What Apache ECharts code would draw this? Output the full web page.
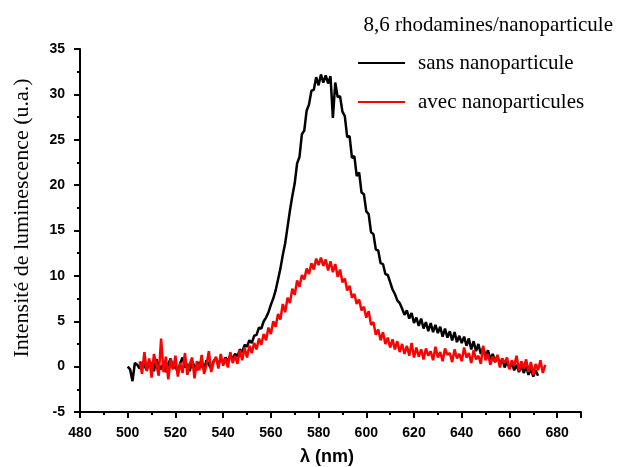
<!DOCTYPE html>
<html>
<head>
<meta charset="utf-8">
<script src="https://cdn.jsdelivr.net/npm/echarts@6/dist/echarts.min.js"></script>
<style>
  html, body { margin: 0; padding: 0; background: #fff; }
  #main { width: 618px; height: 467px; }
</style>
</head>
<body>
<div id="main"></div>
<script>
// longueurs d'onde (nm), pas de 1 nm
var blackStart = 500;
var redStart = 505;

// sans nanoparticule, 500 -> 672 nm
var sansNano = [
  0.0, -0.3, -1.6, 0.4, 0.2, -0.2, 0.5, 0.1, -0.4, 0.6,
  0.3, -0.5, 0.8, 0.2, -0.3, 0.4, -0.6, 0.3, 0.9, -0.2,
  0.1, -0.7, 0.4, 1.0, -0.1, 0.3, -0.5, 0.6, 0.0, -0.4,
  0.5, 0.1, -0.3, 0.7, 0.2, -0.2, 0.6, 0.9, 0.3, 0.8,
  0.5, 1.0, 0.6, 1.3, 0.9, 1.4, 1.1, 1.9, 1.6, 2.4,
  2.2, 2.9, 2.6, 3.4, 3.5, 4.3, 4.2, 5.0, 5.4, 6.0,
  6.8, 7.5, 8.4, 9.6, 10.8, 12.3, 13.6, 15.4, 17.2, 18.8,
  20.2, 22.4, 23.1, 25.6, 26.0, 28.2, 28.9, 30.4, 30.5, 31.9,
  31.0, 32.2, 31.3, 32.1, 31.2, 32.0, 27.4, 31.3, 29.7, 29.8,
  28.1, 27.6, 25.3, 25.4, 23.0, 23.2, 21.0, 21.4, 19.2, 19.0,
  17.1, 16.8, 14.8, 14.6, 12.9, 12.8, 11.4, 11.3, 10.2, 10.1,
  9.3, 8.5, 8.0, 7.3, 7.0, 6.4, 5.7, 6.2, 5.3, 5.9,
  4.8, 5.4, 4.5, 5.3, 4.2, 4.9, 3.9, 4.8, 3.8, 4.6,
  3.7, 4.4, 3.3, 4.2, 3.2, 3.9, 2.9, 3.8, 2.7, 3.4,
  2.6, 3.3, 2.3, 3.1, 1.9, 2.8, 1.7, 2.5, 1.4, 2.1,
  1.1, 1.8, 0.8, 1.4, 0.5, 1.2, 0.2, 0.9, -0.1, 0.6,
  -0.2, 0.4, -0.4, 0.2, -0.6, 0.1, -0.7, 0.0, -0.9, -0.2,
  -1.1, -0.4, -1.0
];

// avec nanoparticules, 505 -> 675 nm
var avecNano = [
  0.6, -0.8, 1.6, -0.5, 0.9, -1.2, 1.4, 0.2, -1.0, 3.1,
  -0.6, 1.1, -1.4, 0.8, -0.3, 1.2, -1.1, 0.4, -0.7, 1.5,
  -0.9, 0.3, 1.0, -1.3, 0.6, -0.4, 1.3, -0.8, 0.2, 1.7,
  -0.6, 0.5, 1.1, -0.2, 1.4, 0.1, 0.9, -0.1, 1.6, 0.4,
  1.2, 0.3, 1.8, 0.7, 2.1, 1.0, 2.3, 1.5, 2.6, 1.9,
  3.1, 2.4, 3.6, 2.9, 4.3, 3.6, 5.0, 4.4, 5.8, 5.2,
  6.9, 6.0, 7.6, 7.0, 8.6, 7.9, 9.5, 8.8, 10.1, 9.6,
  10.8, 10.2, 11.4, 10.7, 11.9, 11.2, 12.0, 11.1, 11.8, 10.6,
  11.6, 10.4, 11.3, 9.9, 10.7, 9.3, 9.7, 8.4, 8.9, 7.6,
  8.0, 6.9, 7.4, 6.2, 6.6, 5.4, 6.1, 4.6, 4.9, 3.5,
  4.1, 2.9, 3.8, 2.5, 3.2, 2.1, 3.0, 1.9, 2.8, 1.6,
  2.5, 1.4, 2.3, 1.2, 2.6, 1.0, 2.1, 1.1, 1.9, 0.8,
  2.0, 1.2, 1.7, 0.7, 2.2, 1.0, 1.6, 0.6, 2.0, 1.3,
  1.5, 0.5, 1.9, 0.9, 1.4, 0.6, 2.1, 1.0, 1.5, 0.4,
  1.8, 0.8, 1.2, 0.3, 2.3, 0.7, 1.4, 0.2, 1.1, 0.5,
  1.3, -0.1, 0.9, 0.4, 1.0, -0.3, 0.7, 0.1, 1.2, -0.5,
  0.6, -0.2, 0.8, -0.6, 0.5, -0.9, 0.3, -0.4, 0.7, -0.7,
  0.2
];

var seriesNames = ['sans nanoparticule', 'avec nanoparticules'];

function toPairs(start, arr) {
  return arr.map(function(v, i) { return [start + i, v]; });
}

var myChart = echarts.init(document.getElementById('main'));
var option = {
  animation: false,
  backgroundColor: '#fff',
  title: {
    text: '8,6 rhodamines/nanoparticule',
    right: 5,
    top: 15,
    padding: 0,
    textStyle: {
      fontFamily: 'Liberation Serif',
      fontSize: 21,
      fontWeight: 'normal',
      color: '#000'
    }
  },
  legend: {
    orient: 'vertical',
    left: 358,
    top: 52,
    padding: 0,
    itemWidth: 47,
    itemHeight: 2,
    itemGap: 17,
    icon: 'rect',
    data: seriesNames,
    textStyle: {
      fontFamily: 'Liberation Serif',
      fontSize: 21,
      lineHeight: 22,
      color: '#000',
      padding: [0, 0, 0, 8]
    }
  },
  grid: {
    left: 80,
    right: 37,
    top: 49,
    bottom: 55
  },
  xAxis: {
    type: 'value',
    min: 480,
    max: 690,
    interval: 20,
    axisLine: { onZero: false, lineStyle: { color: '#000', width: 2 } },
    axisTick: { length: 6, lineStyle: { color: '#000', width: 2 } },
    minorTick: { show: true, splitNumber: 2, length: 3, lineStyle: { color: '#000', width: 2 } },
    splitLine: { show: false },
    axisLabel: {
      color: '#000',
      fontFamily: 'Liberation Sans',
      fontWeight: 'bold',
      fontSize: 14,
      margin: 14,
      showMaxLabel: false
    }
  },
  yAxis: {
    type: 'value',
    min: -5,
    max: 35,
    interval: 5,
    axisLine: { show: true, lineStyle: { color: '#000', width: 2 } },
    axisTick: { show: true, length: 6, lineStyle: { color: '#000', width: 2 } },
    minorTick: { show: true, splitNumber: 2, length: 3, lineStyle: { color: '#000', width: 2 } },
    splitLine: { show: false },
    axisLabel: {
      color: '#000',
      fontFamily: 'Liberation Sans',
      fontWeight: 'bold',
      fontSize: 14,
      margin: 15
    }
  },
  graphic: [{
    type: 'text',
    rotation: Math.PI / 2,
    x: 22,
    y: 218,
    style: {
      text: 'Intensité de luminescence (u.a.)',
      font: '22px "Liberation Serif"',
      fill: '#000',
      align: 'center',
      verticalAlign: 'middle'
    }
  }, {
    type: 'text',
    x: 327,
    y: 457,
    style: {
      text: 'λ (nm)',
      font: 'bold 18px "Liberation Sans"',
      fill: '#000',
      align: 'center',
      verticalAlign: 'middle'
    }
  }],
  series: [{
    name: seriesNames[0],
    type: 'line',
    showSymbol: false,
    symbol: 'none',
    color: '#000',
    lineStyle: { color: '#000', width: 2.5 },
    data: toPairs(blackStart, sansNano)
  }, {
    name: seriesNames[1],
    type: 'line',
    showSymbol: false,
    symbol: 'none',
    color: '#ff0000',
    lineStyle: { color: '#ff0000', width: 2.5 },
    data: toPairs(redStart, avecNano)
  }]
};
myChart.setOption(option);
</script>
</body>
</html>
